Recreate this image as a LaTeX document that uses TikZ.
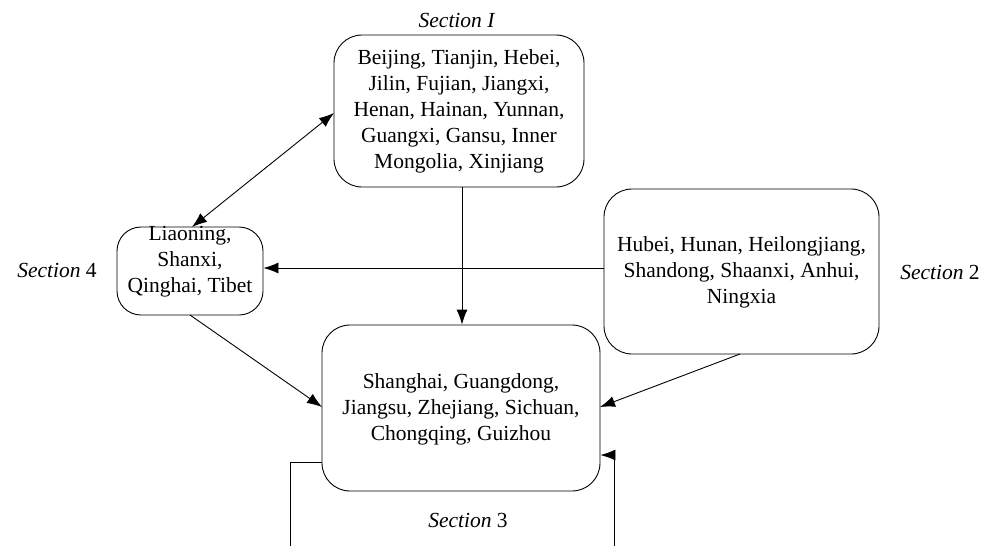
\documentclass[tikz,border=0pt]{standalone}
\usepackage{fontspec}
\setmainfont{Liberation Serif}[Extension=.ttf,UprightFont=LiberationSerif-Regular,ItalicFont=LiberationSerif-Italic,BoldFont=LiberationSerif-Bold,BoldItalicFont=LiberationSerif-BoldItalic]
\usetikzlibrary{arrows.meta}
\begin{document}
\begin{tikzpicture}[x=1pt,y=-1pt,
  box/.style={draw,line width=0.9pt,rounded corners=28pt,inner sep=0pt},
  txt/.style={align=center,font=\fontsize{21.5}{26}\selectfont,inner sep=0pt},
  lbl/.style={font=\fontsize{21.5}{24}\selectfont,inner sep=0pt},
  conn/.style={line width=0.9pt,-{Latex[length=15pt,width=11pt]}},
  plain/.style={line width=0.9pt}]
\useasboundingbox (0,0) rectangle (992,546);
\node[box,minimum width=250pt,minimum height=152pt] (s1) at (459,111) {};
\node[txt] (t1) at (459,111) {Beijing, Tianjin, Hebei,\\Jilin, Fujian, Jiangxi,\\Henan, Hainan, Yunnan,\\Guangxi, Gansu, Inner\\Mongolia, Xinjiang};
\node[box,rounded corners=24pt,minimum width=146pt,minimum height=88pt] (s4) at (190,271) {};
\node[txt] (t4) at (190,262) {Liaoning,\\Shanxi,\\Qinghai, Tibet};
\node[box,minimum width=275pt,minimum height=165pt] (s2) at (741.5,271.5) {};
\node[txt] (t2) at (741.5,272) {Hubei, Hunan, Heilongjiang,\\Shandong, Shaanxi, Anhui,\\Ningxia};
\node[box,minimum width=278pt,minimum height=166pt] (s3) at (461,408) {};
\node[txt] (t3) at (461,409) {Shanghai, Guangdong,\\Jiangsu, Zhejiang, Sichuan,\\Chongqing, Guizhou};
\node[lbl] (l1) at (457,20) {\textit{Section I}};
\node[lbl] (l4) at (57,270) {\textit{Section} 4};
\node[lbl] (l2) at (940,272) {\textit{Section} 2};
\node[lbl] (l3) at (468,520) {\textit{Section} 3};
\coordinate (a1) at (334,113);
\coordinate (a4) at (192,227);
\draw[line width=0.9pt,{Latex[length=15pt,width=11pt]}-{Latex[length=15pt,width=11pt]}] (a1) -- (a4);
\draw[conn] (s1.south -| 462,0) -- (s3.north -| 462,0);
\draw[conn] (s2.west |- 0,268) -- (s4.east |- 0,268);
\coordinate (b4) at (190,315);
\coordinate (b3) at (322,407);
\draw[conn] (b4) -- (b3);
\coordinate (c2) at (740,354);
\coordinate (c3) at (600,407);
\draw[conn] (c2) -- (c3);
\coordinate (d1) at (290,546);
\coordinate (e1) at (614,546);
\draw[plain] (s3.west |- 0,462) -- (290,462) -- (d1);
\draw[conn] (e1) -- (614,455) -- (s3.east |- 0,455);
\end{tikzpicture}
\end{document}
